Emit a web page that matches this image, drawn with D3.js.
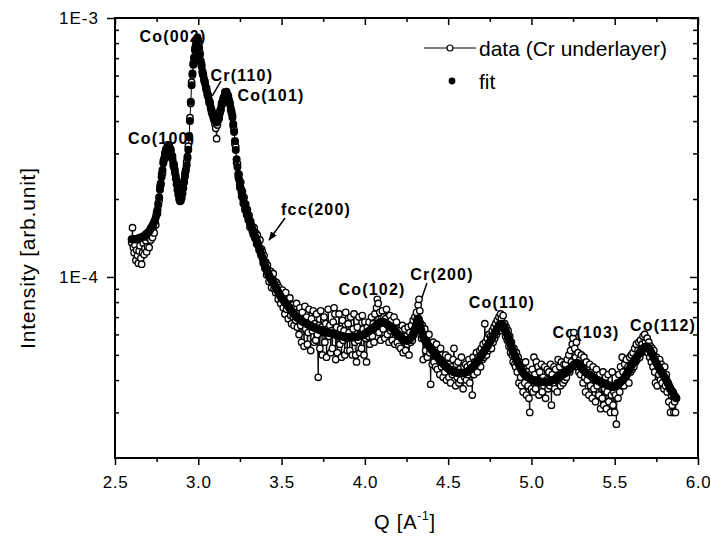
<!DOCTYPE html>
<html>
<head>
<meta charset="utf-8">
<script src="https://cdn.jsdelivr.net/npm/d3@7"></script>
<style>
  body { margin: 0; background: #fff; }
  svg { display: block; }
  text { font-family: Arial, "Liberation Sans", Helvetica, sans-serif; fill: #000; }
</style>
</head>
<body>
<svg id="chart" width="710" height="545"></svg>
<script>
// Scattering vector grid of the scan (A^-1)
const qStart = 2.600;
const qStep = 0.005;

// Fitted intensity, units of 1E-5 (arb. unit), one value per grid point
const fitValues = [
  14.0,14.0,14.0,14.0,14.0,14.0,14.0,14.0,14.1,14.1,14.1,14.2,14.2,14.3,14.3,14.4,14.5,14.6,14.7,14.8,14.9,
  15.0,15.2,15.4,15.6,15.8,16.0,16.3,16.6,17.0,17.5,18.2,19.0,20.3,21.7,23.0,24.3,25.9,27.5,28.7,29.8,
  30.5,31.0,31.5,31.8,31.7,31.3,30.5,29.5,28.5,27.5,26.4,25.2,24.0,22.8,21.7,20.8,20.0,19.6,19.7,20.2,
  21.0,22.0,23.2,24.5,25.7,27.0,28.8,31.0,35.0,40.0,47.5,55.0,61.0,66.0,70.5,75.0,78.8,82.0,84.0,82.0,
  77.0,72.0,68.3,65.0,62.3,60.0,58.0,56.0,54.2,52.5,51.0,49.5,48.0,46.5,45.2,44.0,43.0,42.0,41.1,40.4,
  39.8,39.5,39.8,40.5,41.6,43.0,44.5,46.0,47.3,48.5,49.8,51.0,51.5,51.2,50.5,49.5,48.1,46.5,44.8,43.0,
  41.3,39.0,36.3,33.5,30.9,28.5,26.6,25.0,23.8,22.8,22.0,21.2,20.5,19.9,19.3,18.8,18.3,17.9,17.4,17.0,
  16.6,16.2,15.9,15.6,15.3,15.0,14.7,14.4,14.2,13.9,13.6,13.3,13.0,12.7,12.4,12.1,11.9,11.6,11.4,11.1,
  10.9,10.7,10.5,10.3,10.15,10.0,9.85,9.7,9.6,9.5,9.37,9.25,9.12,9.0,8.87,8.75,8.62,8.5,8.4,8.3,
  8.22,8.15,8.07,8.0,7.92,7.85,7.77,7.7,7.62,7.55,7.48,7.41,7.34,7.27,7.2,7.13,7.06,7.0,6.96,6.92,
  6.88,6.84,6.8,6.77,6.73,6.7,6.67,6.65,6.62,6.6,6.57,6.55,6.52,6.5,6.48,6.45,6.43,6.4,6.38,6.36,
  6.34,6.32,6.3,6.28,6.26,6.25,6.23,6.22,6.2,6.19,6.17,6.16,6.14,6.13,6.12,6.1,6.09,6.08,6.07,6.05,
  6.04,6.03,6.02,6.0,5.99,5.98,5.96,5.95,5.94,5.93,5.92,5.91,5.9,5.89,5.88,5.87,5.87,5.86,5.86,5.86,
  5.85,5.85,5.85,5.85,5.85,5.85,5.85,5.85,5.86,5.87,5.88,5.89,5.9,5.92,5.93,5.95,5.96,5.97,6.0,6.03,
  6.06,6.09,6.12,6.15,6.18,6.22,6.25,6.28,6.31,6.35,6.39,6.43,6.48,6.52,6.56,6.6,6.63,6.66,6.68,6.69,
  6.7,6.7,6.68,6.65,6.63,6.6,6.56,6.52,6.49,6.45,6.41,6.38,6.34,6.3,6.25,6.2,6.15,6.1,6.05,6.0,
  5.95,5.9,5.85,5.8,5.77,5.75,5.72,5.7,5.69,5.69,5.69,5.7,5.72,5.76,5.8,5.85,5.93,6.03,6.15,6.3,
  6.45,6.62,6.8,6.9,6.85,6.65,6.4,6.2,6.02,5.88,5.78,5.7,5.63,5.56,5.5,5.45,5.4,5.35,5.3,5.25,
  5.2,5.15,5.1,5.05,5.0,4.96,4.91,4.87,4.82,4.78,4.74,4.7,4.66,4.62,4.58,4.55,4.52,4.49,4.46,4.43,
  4.4,4.38,4.36,4.34,4.32,4.31,4.3,4.29,4.28,4.28,4.27,4.27,4.26,4.26,4.26,4.26,4.26,4.26,4.27,4.28,
  4.29,4.3,4.31,4.33,4.35,4.38,4.41,4.44,4.47,4.5,4.54,4.58,4.62,4.66,4.7,4.75,4.8,4.86,4.92,4.98,
  5.04,5.1,5.16,5.22,5.28,5.34,5.4,5.45,5.52,5.6,5.67,5.75,5.82,5.9,5.98,6.06,6.14,6.23,6.32,6.4,
  6.5,6.57,6.6,6.59,6.55,6.5,6.42,6.32,6.22,6.1,5.98,5.86,5.73,5.6,5.48,5.37,5.26,5.15,5.06,4.97,
  4.88,4.8,4.72,4.64,4.57,4.5,4.44,4.38,4.32,4.27,4.23,4.19,4.16,4.14,4.12,4.1,4.08,4.06,4.04,4.02,
  4.01,4.0,3.99,3.98,3.97,3.97,3.96,3.96,3.95,3.95,3.94,3.94,3.93,3.93,3.93,3.92,3.92,3.92,3.93,3.94,
  3.95,3.96,3.97,3.98,3.99,4.0,4.01,4.03,4.04,4.06,4.07,4.09,4.1,4.12,4.14,4.16,4.19,4.21,4.23,4.25,
  4.27,4.3,4.32,4.35,4.37,4.4,4.44,4.48,4.52,4.56,4.59,4.61,4.63,4.64,4.65,4.63,4.6,4.55,4.5,4.45,
  4.41,4.38,4.35,4.32,4.29,4.27,4.24,4.22,4.2,4.18,4.16,4.14,4.12,4.1,4.08,4.06,4.04,4.02,4.0,3.98,
  3.96,3.95,3.93,3.92,3.91,3.9,3.88,3.87,3.85,3.84,3.83,3.82,3.81,3.8,3.79,3.78,3.77,3.77,3.77,3.78,
  3.79,3.8,3.82,3.85,3.87,3.9,3.93,3.96,3.98,4.0,4.05,4.1,4.15,4.2,4.25,4.3,4.36,4.42,4.48,4.54,
  4.6,4.65,4.71,4.77,4.83,4.89,4.94,5.0,5.05,5.1,5.15,5.2,5.25,5.3,5.33,5.36,5.38,5.4,5.38,5.33,
  5.29,5.25,5.17,5.1,5.02,4.95,4.87,4.8,4.72,4.65,4.59,4.53,4.47,4.41,4.35,4.3,4.25,4.2,4.15,4.1,
  4.05,4.0,3.94,3.88,3.82,3.76,3.7,3.65,3.6,3.56,3.51,3.47,3.43,3.4
];

// Measured intensity (Cr underlayer), units of 1E-5 (arb. unit)
const dataValues = [
  13.6,15.5,13.0,12.4,13.3,11.6,12.7,12.1,11.3,12.6,13.2,11.8,11.2,12.4,13.5,12.2,12.9,13.8,12.5,13.1,14.2,
  13.0,14.6,13.9,15.0,14.2,15.5,14.8,16.2,15.9,17.8,17.6,19.3,19.8,22.4,22.6,25.0,25.2,28.1,28.3,30.2,
  31.2,30.4,32.4,31.0,32.2,30.6,31.2,28.8,29.3,26.8,27.2,25.9,24.6,23.6,22.5,21.8,22.6,21.2,22.1,21.0,
  21.8,22.9,23.6,25.2,26.0,27.8,29.2,32.0,34.6,41.2,46.8,56.5,60.2,67.0,69.8,76.5,77.6,80.5,82.6,79.8,
  76.2,73.5,67.0,66.2,61.0,60.8,57.2,56.9,53.5,53.6,50.2,50.4,47.1,47.4,44.6,43.2,42.4,41.3,40.2,38.9,
  37.5,34.2,38.6,41.2,40.8,43.8,44.0,46.9,46.5,49.2,49.0,51.8,50.6,52.0,49.8,50.2,47.5,47.0,44.0,43.6,
  42.0,38.2,37.0,32.6,31.8,27.6,27.4,24.3,24.9,22.1,23.2,20.5,21.4,19.2,20.3,18.2,19.1,17.4,18.2,16.6,
  17.3,15.6,16.4,15.8,15.0,14.6,15.5,14.1,14.8,13.4,14.5,13.6,12.7,13.9,12.2,12.8,12.5,11.3,12.1,10.8,
  11.4,10.2,11.1,10.6,9.6,10.4,10.5,9.1,9.9,10.3,9.0,9.6,8.7,9.5,9.3,8.2,9.1,8.8,7.9,8.6,
  8.9,7.6,8.4,7.2,8.7,7.5,8.1,6.9,7.9,8.3,7.1,6.6,7.8,7.0,6.5,7.6,6.8,7.9,6.4,7.3,
  6.0,7.6,6.5,5.6,7.3,6.9,5.4,7.7,6.3,7.0,5.5,6.1,7.5,6.7,5.2,6.9,6.2,7.4,5.6,6.6,
  5.7,7.2,6.0,4.1,6.5,5.3,7.4,6.4,5.0,6.1,7.0,5.6,6.6,4.9,6.3,7.5,5.9,6.5,5.1,6.2,
  5.3,6.7,7.6,7.2,4.8,6.4,5.1,6.0,7.2,5.5,6.3,4.9,6.8,5.7,6.2,5.0,7.3,5.8,5.2,6.6,
  6.1,5.2,7.0,5.9,5.0,6.3,7.2,5.6,5.0,4.7,6.4,5.7,7.0,5.1,6.0,5.3,7.1,6.3,5.0,6.7,
  5.8,4.7,6.4,5.9,6.7,5.5,6.2,7.0,5.9,6.6,5.6,7.2,6.3,7.6,8.2,7.9,6.1,7.3,5.7,6.9,
  7.4,6.3,7.0,5.8,6.9,7.5,6.0,6.6,5.6,7.1,6.2,6.8,5.7,6.4,7.0,5.5,6.1,6.7,5.6,6.3,
  5.4,6.2,5.3,5.9,6.5,5.1,5.8,6.3,5.2,5.9,5.5,6.4,5.0,6.1,5.6,6.5,5.7,6.8,6.0,7.0,
  6.2,7.3,6.9,7.8,8.2,7.4,6.6,5.8,6.5,4.8,5.9,6.3,5.2,5.9,4.9,5.6,6.0,5.1,3.85,5.4,
  4.6,5.6,4.7,5.3,4.5,5.5,4.4,5.1,4.9,4.2,5.3,4.5,5.0,4.1,4.8,4.3,5.0,4.0,4.7,4.9,
  4.1,4.6,3.9,4.5,4.2,4.8,5.3,4.4,3.8,4.6,4.1,4.7,3.9,4.4,4.0,4.9,4.3,3.7,4.5,4.1,
  4.6,4.0,4.5,4.2,4.8,3.9,4.6,4.3,3.5,4.9,4.2,4.7,4.4,5.1,4.3,4.9,4.6,5.2,4.5,5.3,
  4.8,5.5,4.9,6.6,5.6,5.0,5.8,5.2,6.0,5.4,5.9,5.3,6.2,5.6,6.4,5.8,6.6,6.0,6.8,6.2,
  7.0,6.4,7.2,6.9,6.2,7.1,6.3,6.6,5.9,6.4,5.7,6.2,5.4,5.9,5.1,5.6,5.0,4.7,5.3,4.6,
  4.5,5.1,4.3,4.9,3.9,4.7,4.1,3.8,4.6,3.6,4.4,3.9,4.7,3.5,4.3,3.8,3.4,3.0,4.2,3.7,
  4.4,3.6,4.9,4.2,3.7,4.7,4.0,4.5,3.5,4.3,3.9,4.6,3.6,4.1,3.8,4.5,3.4,4.0,4.4,3.7,
  4.3,3.8,4.6,3.2,4.2,3.9,4.5,3.7,4.4,4.1,3.6,4.8,4.0,4.5,3.8,4.7,4.2,3.9,4.6,4.0,
  4.6,4.1,4.8,4.4,5.0,4.3,5.2,4.7,5.5,5.8,6.1,5.3,4.9,5.6,4.5,5.1,4.3,4.8,4.2,5.0,
  4.6,3.9,4.9,4.1,3.6,4.7,4.0,4.4,3.5,4.6,3.8,4.3,3.4,4.5,3.7,4.2,3.3,4.4,3.8,4.1,
  3.5,4.2,3.1,3.9,3.4,4.3,3.2,3.7,4.1,3.1,3.6,4.2,3.3,3.8,3.0,3.5,4.3,3.2,3.6,3.0,
  3.5,2.7,3.9,3.4,4.2,3.6,4.5,3.9,4.9,4.3,3.8,4.6,4.0,4.8,4.2,4.5,3.9,4.9,4.3,5.0,
  4.4,5.1,4.5,5.3,4.7,5.5,4.8,5.2,5.6,4.9,5.7,5.1,5.5,5.9,5.2,6.0,5.6,5.3,5.8,5.1,
  5.6,4.9,5.4,4.7,5.3,4.5,5.2,4.3,3.9,4.9,3.8,4.7,4.2,4.8,4.0,4.6,3.9,4.4,3.7,4.5,
  3.8,4.2,3.6,3.9,3.3,3.7,3.0,3.5,3.2,3.6,3.0,3.3,3.0,3.4
];

// Axis ticks
const xTicks = [2.5, 3.0, 3.5, 4.0, 4.5, 5.0, 5.5, 6.0];
const xTickLabels = ["2.5", "3.0", "3.5", "4.0", "4.5", "5.0", "5.5", "6.0"];
const xMinorTicks = [2.75, 3.25, 3.75, 4.25, 4.75, 5.25, 5.75];
const yTicks = [10, 100];
const yTickLabels = ["1E-4", "1E-3"];
const yMinorTicks = [3, 4, 5, 6, 7, 8, 9, 20, 30, 40, 50, 60, 70, 80, 90];

// Peak assignments: text, Q and intensity (1E-5) at the label centre
const peakNames = ["Co(100)", "Co(002)", "Cr(110)", "Co(101)", "fcc(200)", "Co(102)", "Cr(200)", "Co(110)", "Co(103)", "Co(112)"];
const peakQ     = [2.780, 2.848, 3.262, 3.437, 3.707, 4.043, 4.463, 4.823, 5.328, 5.790];
const peakI     = [34.4, 85.1, 60.0, 50.4, 18.2, 8.91, 10.2, 8.0, 6.08, 6.47];

// Pointer segments [q1, i1, q2, i2] and whether they carry an arrow head
const pointerSegs = [
  [3.136, 57.0, 3.084, 50.0],
  [3.521, 16.9, 3.425, 13.9],
  [4.373, 9.48, 4.325, 7.73]
];
const pointerArrow = [false, true, false];

// Legend entries
const legendNames = ["data (Cr underlayer)", "fit"];

// ---------------------------------------------------------------------
const svg = d3.select("#chart");
const W = 710, H = 545;
const plot = { left: 115, right: 698, top: 18, bottom: 458 };

svg.append("rect").attr("width", W).attr("height", H).attr("fill", "#fff");

const x = d3.scaleLinear().domain([2.5, 6.0]).range([plot.left, plot.right]);
const y = d3.scaleLog().domain([2, 100]).range([plot.bottom, plot.top]);

const qAt = i => qStart + i * qStep;
const dataPts = dataValues.map((v, i) => ({ q: qAt(i), v }));
const fitPts = fitValues.map((v, i) => ({ q: qAt(i), v }));

// arrow head marker
svg.append("defs").append("marker")
  .attr("id", "head")
  .attr("viewBox", "0 0 10 10")
  .attr("refX", 9).attr("refY", 5)
  .attr("markerWidth", 9).attr("markerHeight", 9)
  .attr("markerUnits", "userSpaceOnUse")
  .attr("orient", "auto")
  .append("path").attr("d", "M0,1 L10,5 L0,9 Z").attr("fill", "#000");

// peak labels
svg.append("g")
  .selectAll("text")
  .data(peakNames)
  .join("text")
  .attr("x", (d, i) => x(peakQ[i]))
  .attr("y", (d, i) => y(peakI[i]))
  .attr("text-anchor", "middle")
  .attr("dominant-baseline", "central")
  .style("font-size", "16px")
  .style("font-weight", "bold")
  .style("letter-spacing", "1.2px")
  .text(d => d);

// pointer lines
svg.append("g")
  .selectAll("line")
  .data(pointerSegs)
  .join("line")
  .attr("x1", d => x(d[0])).attr("y1", d => y(d[1]))
  .attr("x2", d => x(d[2])).attr("y2", d => y(d[3]))
  .attr("stroke", "#000").attr("stroke-width", 1.5)
  .attr("marker-end", (d, i) => pointerArrow[i] ? "url(#head)" : null);

// measured data: thin connecting line + open circles
svg.append("path")
  .datum(dataPts)
  .attr("fill", "none")
  .attr("stroke", "#000")
  .attr("stroke-width", 1)
  .attr("d", d3.line().x(d => x(d.q)).y(d => y(d.v)));

svg.append("g")
  .selectAll("circle")
  .data(dataPts)
  .join("circle")
  .attr("cx", d => x(d.q))
  .attr("cy", d => y(d.v))
  .attr("r", 3.2)
  .attr("fill", "#fff")
  .attr("stroke", "#000")
  .attr("stroke-width", 1.35);

// fit: filled dots
svg.append("g")
  .selectAll("circle")
  .data(fitPts)
  .join("circle")
  .attr("cx", d => x(d.q))
  .attr("cy", d => y(d.v))
  .attr("r", 4)
  .attr("fill", "#000");

// axes
const fmtX = d => xTickLabels[xTicks.indexOf(d)];
const fmtY = d => yTickLabels[yTicks.indexOf(d)];

function styleAxis(g, fontSize) {
  g.select(".domain").remove();
  g.selectAll("line").attr("stroke", "#000").attr("stroke-width", 1.5);
  g.selectAll("text").style("font-size", fontSize).attr("fill", "#000");
}

svg.append("g").attr("transform", `translate(0,${plot.bottom})`)
  .call(d3.axisBottom(x).tickValues(xTicks).tickSize(7).tickPadding(11).tickFormat(fmtX))
  .call(g => styleAxis(g, "17px"))
  .call(g => g.selectAll("text").style("letter-spacing", "0.6px"));
svg.append("g").attr("transform", `translate(0,${plot.bottom})`)
  .call(d3.axisBottom(x).tickValues(xMinorTicks).tickSize(4).tickFormat(""))
  .call(g => styleAxis(g, "0px"));
svg.append("g").attr("transform", `translate(0,${plot.top})`)
  .call(d3.axisTop(x).tickValues(xTicks).tickSize(-7).tickFormat(""))
  .call(g => styleAxis(g, "0px"));
svg.append("g").attr("transform", `translate(0,${plot.top})`)
  .call(d3.axisTop(x).tickValues(xMinorTicks).tickSize(-4).tickFormat(""))
  .call(g => styleAxis(g, "0px"));

svg.append("g").attr("transform", `translate(${plot.left},0)`)
  .call(d3.axisLeft(y).tickValues(yTicks).tickSize(8).tickPadding(8).tickFormat(fmtY))
  .call(g => styleAxis(g, "17px"))
  .call(g => g.selectAll("text").style("letter-spacing", "1px"));
svg.append("g").attr("transform", `translate(${plot.left},0)`)
  .call(d3.axisLeft(y).tickValues(yMinorTicks).tickSize(-4).tickFormat(""))
  .call(g => styleAxis(g, "0px"));
svg.append("g").attr("transform", `translate(${plot.right},0)`)
  .call(d3.axisRight(y).tickValues(yTicks).tickSize(-8).tickFormat(""))
  .call(g => styleAxis(g, "0px"));
svg.append("g").attr("transform", `translate(${plot.right},0)`)
  .call(d3.axisRight(y).tickValues(yMinorTicks).tickSize(-5).tickFormat(""))
  .call(g => styleAxis(g, "0px"));

// frame
svg.append("rect")
  .attr("x", plot.left).attr("y", plot.top)
  .attr("width", plot.right - plot.left).attr("height", plot.bottom - plot.top)
  .attr("fill", "none").attr("stroke", "#000").attr("stroke-width", 2);

// axis titles
svg.append("text")
  .attr("transform", "translate(27,258) rotate(-90)")
  .attr("text-anchor", "middle")
  .attr("dominant-baseline", "central")
  .style("font-size", "21px")
  .style("letter-spacing", "0.8px")
  .text("Intensity [arb.unit]");

const xt = svg.append("text")
  .attr("x", 405).attr("y", 529)
  .attr("text-anchor", "middle")
  .style("font-size", "20px")
  .style("letter-spacing", "0.8px");
xt.append("tspan").text("Q [A");
xt.append("tspan").attr("dy", -9).style("font-size", "12px").text("-1");
xt.append("tspan").attr("dy", 9).text("]");

// legend
const leg = svg.append("g");
const row0 = 48, row1 = 81;
leg.append("line").attr("x1", 424).attr("x2", 476).attr("y1", row0).attr("y2", row0)
  .attr("stroke", "#000").attr("stroke-width", 1);
leg.append("circle").attr("cx", 450).attr("cy", row0).attr("r", 3)
  .attr("fill", "#fff").attr("stroke", "#000").attr("stroke-width", 1.2);
leg.append("circle").attr("cx", 452).attr("cy", row1).attr("r", 3.4).attr("fill", "#000");
leg.selectAll("text.lg")
  .data(legendNames)
  .join("text")
  .attr("class", "lg")
  .attr("x", 479)
  .attr("y", (d, i) => i === 0 ? row0 : row1)
  .attr("dominant-baseline", "central")
  .style("font-size", "21px")
  .text(d => d);
</script>
</body>
</html>
